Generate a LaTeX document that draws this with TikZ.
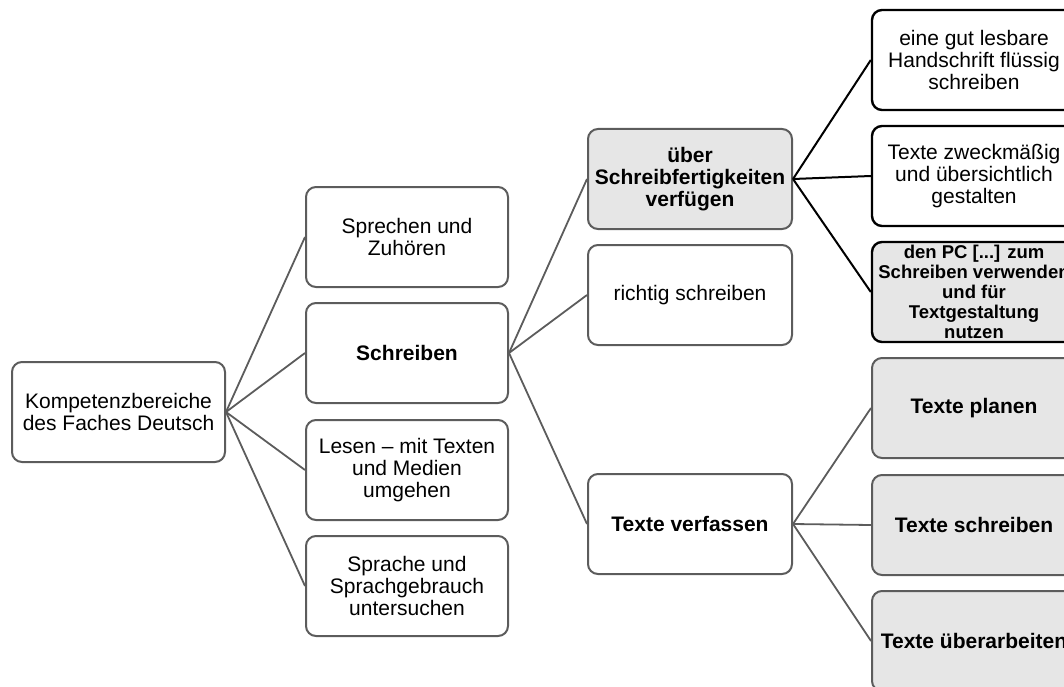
\documentclass[tikz,border=0pt]{standalone}
\usepackage{fontspec}
\setmainfont{Liberation Sans}
\usetikzlibrary{positioning}

\definecolor{boxline}{HTML}{5C5C5C}
\definecolor{boxfill}{HTML}{E6E6E6}

\begin{document}
\begin{tikzpicture}[x=1pt, y=-1pt,
    item/.style={draw=boxline, line width=2pt, rounded corners=10pt, fill=white,
        align=center, inner sep=3pt, minimum width=202pt, minimum height=100pt,
        font=\fontsize{21}{22}\selectfont},
    strong/.style={item, font=\fontsize{21}{22}\selectfont\bfseries},
    shaded/.style={strong, fill=boxfill},
    dark/.style={draw=black, line width=2.4pt},
    link/.style={draw=boxline, line width=1.8pt},
    darklink/.style={draw=black, line width=2pt}]

        \newcommand{\colA}{407}
        \newcommand{\colB}{690}
        \newcommand{\colC}{974}

        \useasboundingbox (0,0) rectangle (1064,687);
        \clip (0,0) rectangle (1064,687);

        % root
        \node[item, minimum width=213pt] (root) at (118.5,412) {Kompetenzbereiche\\des Faches Deutsch};

        % first level
        \node[item] (sprechen) at (\colA,237) {Sprechen und\\Zuhören};
        \node[strong] (schreiben) at (\colA,353) {Schreiben};
        \node[item] (lesen) at (\colA,470) {Lesen -- mit Texten\\und Medien\\umgehen};
        \node[item] (sprache) at (\colA,586) {Sprache und\\Sprachgebrauch\\untersuchen};

        % second level
        \node[shaded, minimum width=204pt] (fertig) at (\colB,179) {über\\Schreibfertigkeiten\\verfügen};
        \node[item, minimum width=204pt] (richtig) at (\colB,295) {richtig schreiben};
        \node[strong, minimum width=204pt] (verfassen) at (\colB,524) {Texte verfassen};

        % third level
        \node[item, dark, minimum width=204pt] (hand) at (\colC,60) {eine gut lesbare\\Handschrift flüssig\\schreiben};
        \node[item, dark, minimum width=204pt] (gestalten) at (\colC,176) {Texte zweckmäßig\\und übersichtlich\\gestalten};
        \node[shaded, dark, minimum width=204pt, font=\fontsize{18.5}{20}\selectfont\bfseries] (pc) at (\colC,292) {den PC [...] zum\\Schreiben verwenden\\und für\\Textgestaltung\\nutzen};
        \node[shaded, minimum width=204pt] (planen) at (\colC,408) {Texte planen};
        \node[shaded, minimum width=204pt] (tschreiben) at (\colC,525) {Texte schreiben};
        \node[shaded, minimum width=204pt] (ueber) at (\colC,641) {Texte überarbeiten};

        \foreach \n in {sprechen, schreiben, lesen, sprache}
            \draw[link] (root.east) -- (\n.west);
        \foreach \n in {fertig, richtig, verfassen}
            \draw[link] (schreiben.east) -- (\n.west);
        \foreach \n in {hand, gestalten, pc}
            \draw[darklink] (fertig.east) -- (\n.west);
        \foreach \n in {planen, tschreiben, ueber}
            \draw[link] (verfassen.east) -- (\n.west);
    \end{tikzpicture}
\end{document}
